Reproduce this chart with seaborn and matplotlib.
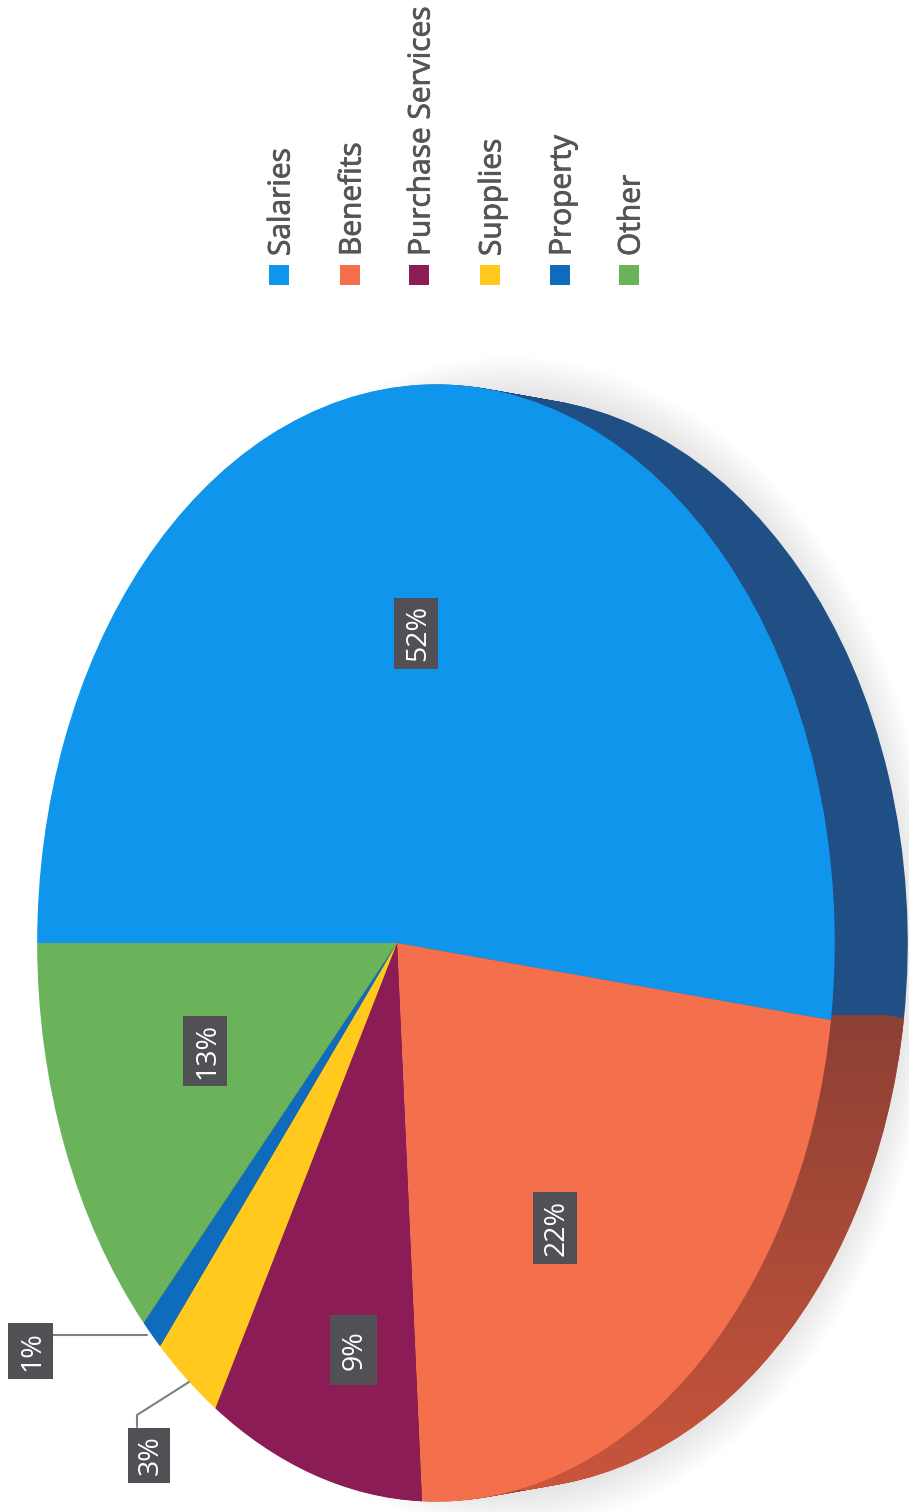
import numpy as np
import matplotlib
matplotlib.use("Agg")
import matplotlib.pyplot as plt
import matplotlib.patheffects as pe
from matplotlib.colors import LinearSegmentedColormap
from matplotlib.patches import Rectangle
from matplotlib.path import Path
from matplotlib.transforms import Transform
import seaborn as sns

categories = ["Salaries", "Benefits", "Purchase Services", "Supplies", "Property", "Other"]
shares = [52, 22, 9, 3, 1, 13]
pct_labels = ["52%", "22%", "9%", "3%", "1%", "13%"]
top_colors = ["#0F96EC", "#F4704C", "#8C1C55", "#FFC91E", "#0F6CBD", "#6BB35B"]
side_colors = ["#1F4F85", "#A8472F", "#5C1238", "#A8841A", "#0A4780", "#467A3C"]

# page layout, in pixels of the scan
legend_x = [279, 350, 419, 490, 560, 629]
box_centres = [(416, 633), (555, 1228), (353, 1350), (149, 1455), (30, 1351), (205, 1051)]
box_sizes = [(44, 71), (44, 72), (47, 70), (42, 55), (45, 56), (44, 70)]


class Tilted(Transform):
    # unit circle of the pie -> page pixels, with a bit of perspective
    input_dims = 2
    output_dims = 2

    def __init__(self, shift=0.0, height=556.0, grow=1.0):
        super().__init__()
        self.shift = shift
        self.height = height
        self.grow = grow

    def transform_non_affine(self, values):
        u = values[:, 0] * self.grow
        v = values[:, 1] * self.grow
        w = 1 - 0.0977 * u
        return np.column_stack([397 + self.shift + 395 * u / w, 943 - self.height * v / w])


def draw_pie(ax, colors, tilt, alpha=None):
    wedges = ax.pie(shares, colors=colors, startangle=180, counterclock=False,
                    wedgeprops={"linewidth": 0, "alpha": alpha})[0]
    for w in wedges:
        w.set_transform(tilt + ax.transData)
    return wedges


sns.set_theme(style="white")
plt.rcParams["font.family"] = ["Open Sans", "DejaVu Sans"]

fig = plt.figure(figsize=(9.09, 15.12), dpi=100, facecolor="white")
ax = fig.add_axes([0, 0, 1, 1])

# soft shadow round the far edge
for grow in np.linspace(1.07, 1.0, 14):
    draw_pie(ax, ["#707078"] * 6, Tilted(shift=68, height=545, grow=grow), alpha=0.011)

# side wall, stacked copies from back to front
benefit_paths = []
for d in np.linspace(73, 1, 40):
    tilt = Tilted(shift=d, height=556 - 13 * d / 73)
    wedges = draw_pie(ax, sns.color_palette(side_colors), tilt)
    benefit_paths.append(tilt.transform_path(wedges[1].get_path()))

# the Benefits wall gets lighter towards the bottom of the page
wall_cmap = LinearSegmentedColormap.from_list("wall", ["#8C4034", "#C9553C"])
shade = ax.imshow(np.linspace(0, 1, 256).reshape(-1, 1), cmap=wall_cmap, extent=(0, 909, 1490, 1015),
                  aspect="auto", zorder=1)
shade.set_clip_path(Path.make_compound_path(*benefit_paths), ax.transData)

# top face
draw_pie(ax, sns.color_palette(top_colors), Tilted())

ax.set_aspect("auto")
ax.set_xlim(0, 909)
ax.set_ylim(1512, 0)
ax.axis("off")

# leader lines for the two small slices
ax.plot([53, 147], [1335, 1335], color="#808080", lw=1.5)
ax.plot([137, 137, 189], [1427, 1415, 1382], color="#808080", lw=1.5)

for label, (cx, cy), (bw, bh) in zip(pct_labels, box_centres, box_sizes):
    ax.add_patch(Rectangle((cx - bw / 2, cy - bh / 2), bw, bh, facecolor="#505055", edgecolor="none", zorder=5))
    ax.text(cx + 2, cy, label, color="white", fontsize=20.5, rotation=90, ha="center", va="center", zorder=6)

# legend is rotated with the page, so it is laid out by hand
ax.scatter(legend_x, [275] * 6, marker="s", s=190, c=sns.color_palette(top_colors), linewidths=0)
for name, x in zip(categories, legend_x):
    ax.text(x + 3, 256, name, color="#555555", fontsize=21.5, rotation=90, ha="center", va="bottom",
            path_effects=[pe.withStroke(linewidth=0.6, foreground="#555555")])

fig.savefig("out.png", dpi=100)
